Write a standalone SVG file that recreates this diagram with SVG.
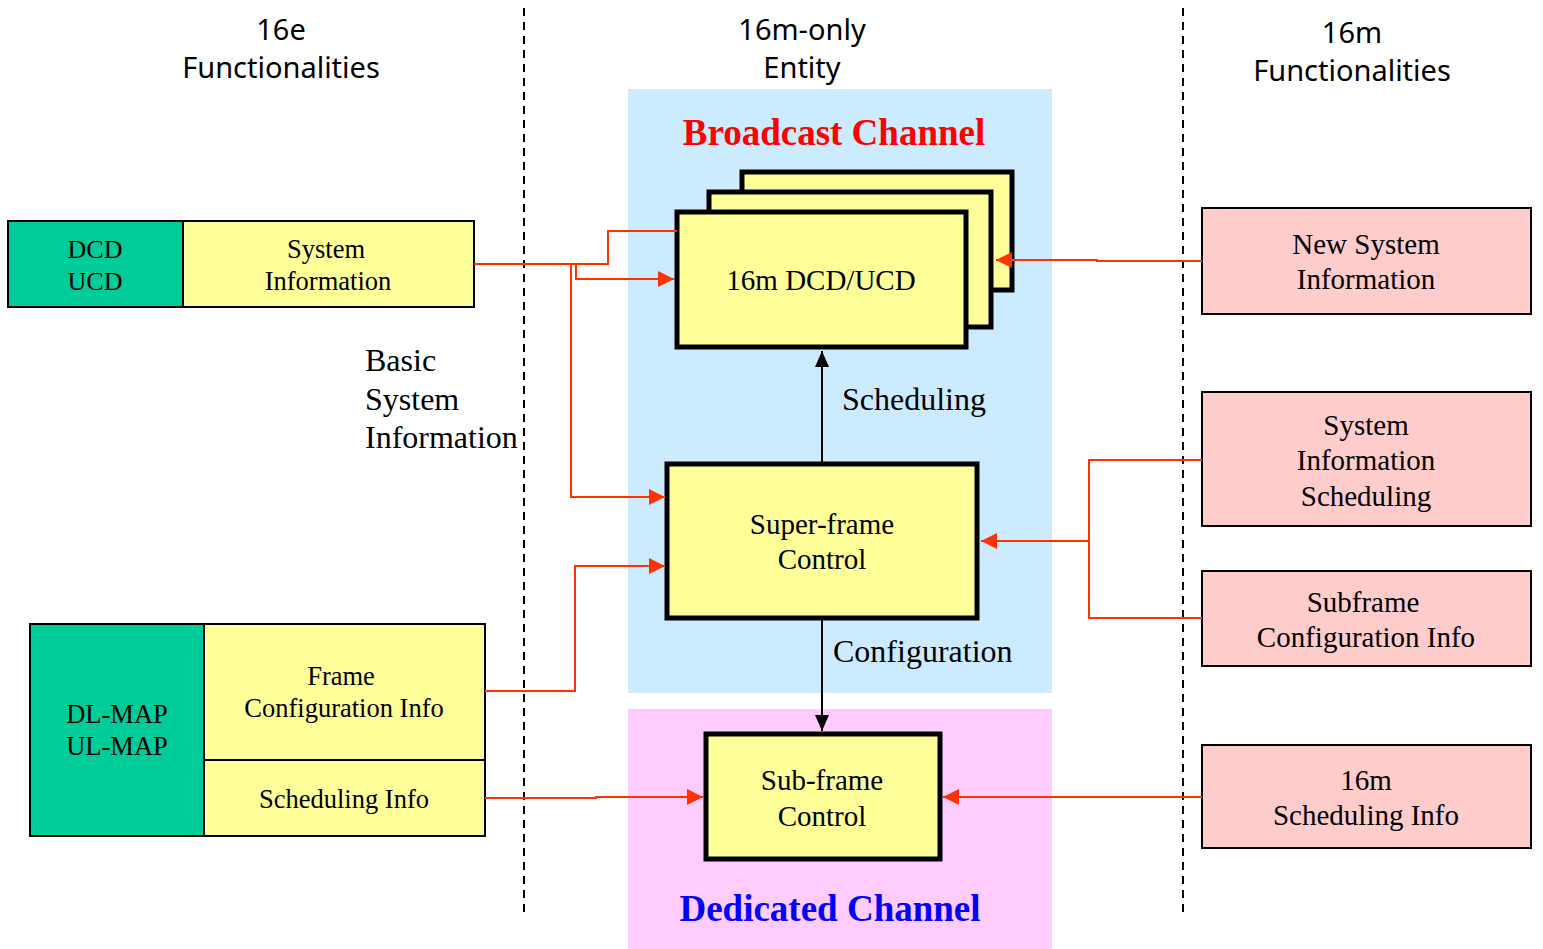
<svg xmlns="http://www.w3.org/2000/svg" width="1543" height="949" viewBox="0 0 1543 949">
<defs>
<style>
.hdr{font-family:"Noto Sans","DejaVu Sans",sans-serif;font-size:29px;fill:#000;text-anchor:middle}
.sf{font-family:"Liberation Serif","Times New Roman",serif;fill:#000}
.c{text-anchor:middle}
.ybold{fill:#FFFF99;stroke:#000;stroke-width:5}
.ythin{fill:#FFFF99;stroke:#000;stroke-width:2}
.green{fill:#00CC99;stroke:#000;stroke-width:2}
.pink{fill:#FFCCCC;stroke:#000;stroke-width:2}
.red{fill:none;stroke:#FF3300;stroke-width:2}
.blk{fill:none;stroke:#000;stroke-width:2}
.dash{stroke:#000;stroke-width:2;stroke-dasharray:8,6}
</style>
<marker id="ar" markerUnits="userSpaceOnUse" markerWidth="16" markerHeight="16" viewBox="0 0 16 16" refX="16" refY="8" orient="auto">
<path d="M0,0 L16,8 L0,16 Z" fill="#FF3300"/>
</marker>
<marker id="ab" markerUnits="userSpaceOnUse" markerWidth="16" markerHeight="16" viewBox="0 0 16 16" refX="16" refY="8" orient="auto">
<path d="M0,1 L16,8 L0,15 Z" fill="#000"/>
</marker>
</defs>
<rect width="1543" height="949" fill="#fff"/>
<g id="background">
<rect x="628" y="89" width="424" height="604" fill="#CCEBFF"/>
<rect x="628" y="709" width="424" height="240" fill="#FFCCFF"/>
<line class="dash" x1="524" y1="8" x2="524" y2="918"/>
<line class="dash" x1="1183" y1="8" x2="1183" y2="918"/>
</g>
<g id="headers">
<text class="hdr" x="281" y="40">16e</text>
<text class="hdr" x="281" y="78">Functionalities</text>
<text class="hdr" x="802" y="40">16m-only</text>
<text class="hdr" x="802" y="78">Entity</text>
<text class="hdr" x="1352" y="43">16m</text>
<text class="hdr" x="1352" y="81">Functionalities</text>
<text class="sf c" x="834" y="145" font-size="37" font-weight="bold" style="fill:#FF0000">Broadcast Channel</text>
<text class="sf c" x="830" y="921" font-size="37" font-weight="bold" style="fill:#0000FF">Dedicated Channel</text>
<text class="sf" x="365" y="371" font-size="32">Basic</text>
<text class="sf" x="365" y="410" font-size="32">System</text>
<text class="sf" x="365" y="448" font-size="32">Information</text>
<text class="sf" x="842" y="410" font-size="32">Scheduling</text>
<text class="sf" x="833" y="662" font-size="32">Configuration</text>
</g>
<g id="dcd-ucd">
<rect class="green" x="8" y="221" width="175" height="86"/>
<text class="sf c" x="95" y="258" font-size="26">DCD</text>
<text class="sf c" x="95" y="290" font-size="26">UCD</text>
</g>
<g id="system-information">
<rect class="ythin" x="183" y="221" width="291" height="86"/>
<text class="sf c" x="326" y="258" font-size="26.5">System</text>
<text class="sf c" x="328" y="290" font-size="26.5">Information</text>
</g>
<g id="dl-ul-map">
<rect class="green" x="30" y="624" width="174" height="212"/>
<text class="sf c" x="117" y="723" font-size="26.5">DL-MAP</text>
<text class="sf c" x="117" y="755" font-size="26.5">UL-MAP</text>
</g>
<g id="frame-config-info">
<rect class="ythin" x="204" y="624" width="281" height="136"/>
<text class="sf c" x="341" y="685" font-size="26.5">Frame</text>
<text class="sf c" x="344" y="717" font-size="26.5">Configuration Info</text>
</g>
<g id="scheduling-info">
<rect class="ythin" x="204" y="760" width="281" height="76"/>
<text class="sf c" x="344" y="808" font-size="26.5">Scheduling Info</text>
</g>
<g id="dcd-ucd-16m">
<rect class="ybold" x="742" y="172" width="270" height="118"/>
<rect class="ybold" x="709" y="192" width="282" height="135"/>
<rect class="ybold" x="677" y="212" width="289" height="135"/>
<text class="sf c" x="821" y="290" font-size="29">16m DCD/UCD</text>
</g>
<g id="super-frame-control">
<rect class="ybold" x="667" y="464" width="310" height="154"/>
<text class="sf c" x="822" y="534" font-size="29">Super-frame</text>
<text class="sf c" x="822" y="569" font-size="29">Control</text>
</g>
<g id="sub-frame-control">
<rect class="ybold" x="706" y="734" width="234" height="125"/>
<text class="sf c" x="822" y="790" font-size="29">Sub-frame</text>
<text class="sf c" x="822" y="826" font-size="29">Control</text>
</g>
<g id="new-system-information">
<rect class="pink" x="1202" y="208" width="329" height="106"/>
<text class="sf c" x="1366" y="254" font-size="29">New System</text>
<text class="sf c" x="1366" y="289" font-size="29">Information</text>
</g>
<g id="system-information-scheduling">
<rect class="pink" x="1202" y="392" width="329" height="134"/>
<text class="sf c" x="1366" y="435" font-size="29">System</text>
<text class="sf c" x="1366" y="470" font-size="29">Information</text>
<text class="sf c" x="1366" y="506" font-size="29">Scheduling</text>
</g>
<g id="subframe-configuration-info">
<rect class="pink" x="1202" y="571" width="329" height="95"/>
<text class="sf c" x="1363" y="612" font-size="29">Subframe</text>
<text class="sf c" x="1366" y="647" font-size="29">Configuration Info</text>
</g>
<g id="scheduling-info-16m">
<rect class="pink" x="1202" y="745" width="329" height="103"/>
<text class="sf c" x="1366" y="790" font-size="29">16m</text>
<text class="sf c" x="1366" y="825" font-size="29">Scheduling Info</text>
</g>
<g id="connectors">
<polyline class="red" points="474,264 608,264 608,231 677,231"/>
<polyline class="red" points="576,264 576,279 674,279" marker-end="url(#ar)"/>
<polyline class="red" points="571,264 571,497 665,497" marker-end="url(#ar)"/>
<polyline class="red" points="485,691 575,691 575,566 665,566" marker-end="url(#ar)"/>
<polyline class="red" points="485,798 596,798 596,797 703,797" marker-end="url(#ar)"/>
<polyline class="red" points="1202,261 1097,261 1097,260 996,260" marker-end="url(#ar)"/>
<polyline class="red" points="1202,460 1089,460 1089,618 1202,618"/>
<polyline class="red" points="1089,541 981,541" marker-end="url(#ar)"/>
<polyline class="red" points="1202,797 1070,797 943,797" marker-end="url(#ar)"/>
<line class="blk" x1="822" y1="462" x2="822" y2="351" marker-end="url(#ab)"/>
<line class="blk" x1="822" y1="620" x2="822" y2="731" marker-end="url(#ab)"/>
</g>
</svg>
